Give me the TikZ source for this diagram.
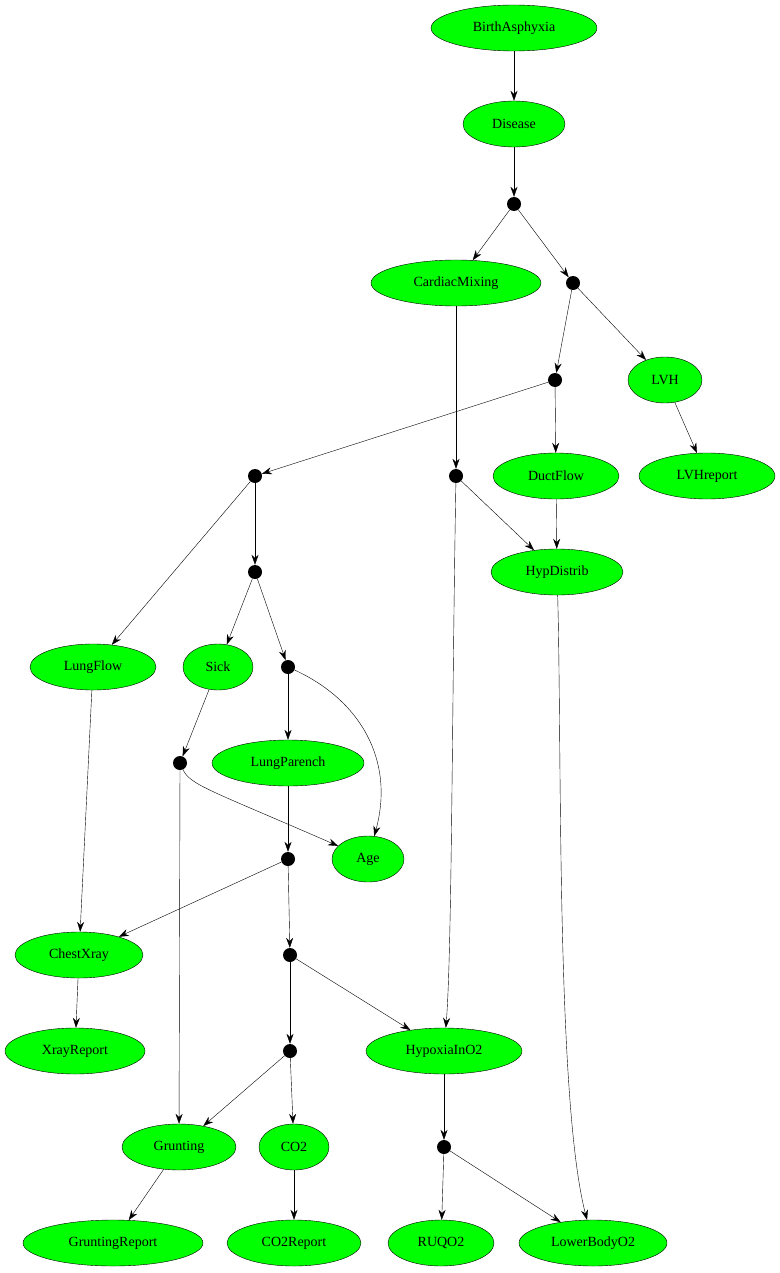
\documentclass[tikz,border=0pt]{standalone}
\usepackage{fontspec}
\setmainfont{Liberation Serif}
\usetikzlibrary{shapes.geometric,arrows.meta}
\tikzset{var/.style={ellipse,draw,fill=green,inner sep=0pt,minimum height=46pt,font=\fontsize{14}{14}\selectfont}}
\tikzset{pt/.style={circle,fill=black,inner sep=0pt,minimum size=14pt}}
\begin{document}
\begin{tikzpicture}[x=1pt,y=-1pt,>={Stealth[length=10pt,width=7pt]}]
        \useasboundingbox (0,0) rectangle (779,1273);
        \node[var,minimum width=166pt] (BA) at (514,28) {BirthAsphyxia};
        \node[var,minimum width=102pt] (Dis) at (514,124) {Disease};
        \node[pt] (d1) at (514,204) {};
        \node[var,minimum width=170pt] (CM) at (456,283) {CardiacMixing};
        \node[pt] (d2) at (573,283) {};
        \node[pt] (d3) at (555,380) {};
        \node[var,minimum width=74pt] (LVH) at (665,380) {LVH};
        \node[pt] (d4) at (255,476) {};
        \node[pt] (d5) at (456,476) {};
        \node[var,minimum width=126pt] (DF) at (556,476) {DuctFlow};
        \node[var,minimum width=136pt] (LVHr) at (707,476) {LVHreport};
        \node[pt] (d6) at (255,572) {};
        \node[var,minimum width=132pt] (HD) at (557,572) {HypDistrib};
        \node[var,minimum width=126pt] (LF) at (93,667) {LungFlow};
        \node[var,minimum width=70pt] (Sick) at (218,667) {Sick};
        \node[pt] (d7) at (288,667) {};
        \node[pt] (d8) at (180,763) {};
        \node[var,minimum width=152pt] (LP) at (288,763) {LungParench};
        \node[pt] (d9) at (288,859) {};
        \node[var,minimum width=72pt] (Age) at (368,859) {Age};
        \node[var,minimum width=128pt] (CX) at (79,955) {ChestXray};
        \node[pt] (d10) at (290,955) {};
        \node[var,minimum width=140pt] (XR) at (75,1051) {XrayReport};
        \node[pt] (d11) at (290,1051) {};
        \node[var,minimum width=156pt] (HO) at (444,1051) {HypoxiaInO2};
        \node[var,minimum width=114pt] (Gr) at (179,1147) {Grunting};
        \node[var,minimum width=70pt] (CO) at (294,1147) {CO2};
        \node[pt] (d12) at (444,1147) {};
        \node[var,minimum width=180pt] (GR) at (113,1243) {GruntingReport};
        \node[var,minimum width=134pt] (COR) at (294,1243) {CO2Report};
        \node[var,minimum width=106pt] (RU) at (441,1243) {RUQO2};
        \node[var,minimum width=148pt] (LB) at (593,1243) {LowerBodyO2};
        % edges
        \draw[->] (BA) -- (Dis);
        \draw[->] (Dis) -- (d1);
        \draw[->] (d1) -- (CM);
        \draw[->] (d1) -- (d2);
        \draw[->] (d2) -- (d3);
        \draw[->] (d2) -- (LVH);
        \draw[->] (LVH) -- (LVHr);
        \draw[->] (d3) -- (d4);
        \draw[->] (d3) -- (DF);
        \draw[->] (CM) -- (d5);
        \draw[->] (d5) -- (HD);
        \draw[->] (d5) .. controls (452,700) and (452,950) .. (HO);
        \draw[->] (DF) -- (HD);
        \draw[->] (HD) .. controls (562,750) and (556,1100) .. (LB);
        \draw[->] (d4) -- (LF);
        \draw[->] (d4) -- (d6);
        \draw[->] (d6) -- (Sick);
        \draw[->] (d6) -- (d7);
        \draw[->] (d7) -- (LP);
        \draw[->] (d7) .. controls (360,700) and (395,760) .. (Age);
        \draw[->] (Sick) -- (d8);
        \draw[->] (d8) .. controls (190,785) and (210,790) .. (Age);
        \draw[->] (d8) -- (Gr);
        \draw[->] (LF) -- (CX);
        \draw[->] (LP) -- (d9);
        \draw[->] (d9) -- (CX);
        \draw[->] (d9) -- (d10);
        \draw[->] (d10) -- (d11);
        \draw[->] (d10) -- (HO);
        \draw[->] (d11) -- (Gr);
        \draw[->] (d11) -- (CO);
        \draw[->] (CX) -- (XR);
        \draw[->] (Gr) -- (GR);
        \draw[->] (CO) -- (COR);
        \draw[->] (HO) -- (d12);
        \draw[->] (d12) -- (RU);
        \draw[->] (d12) -- (LB);
\end{tikzpicture}
\end{document}
